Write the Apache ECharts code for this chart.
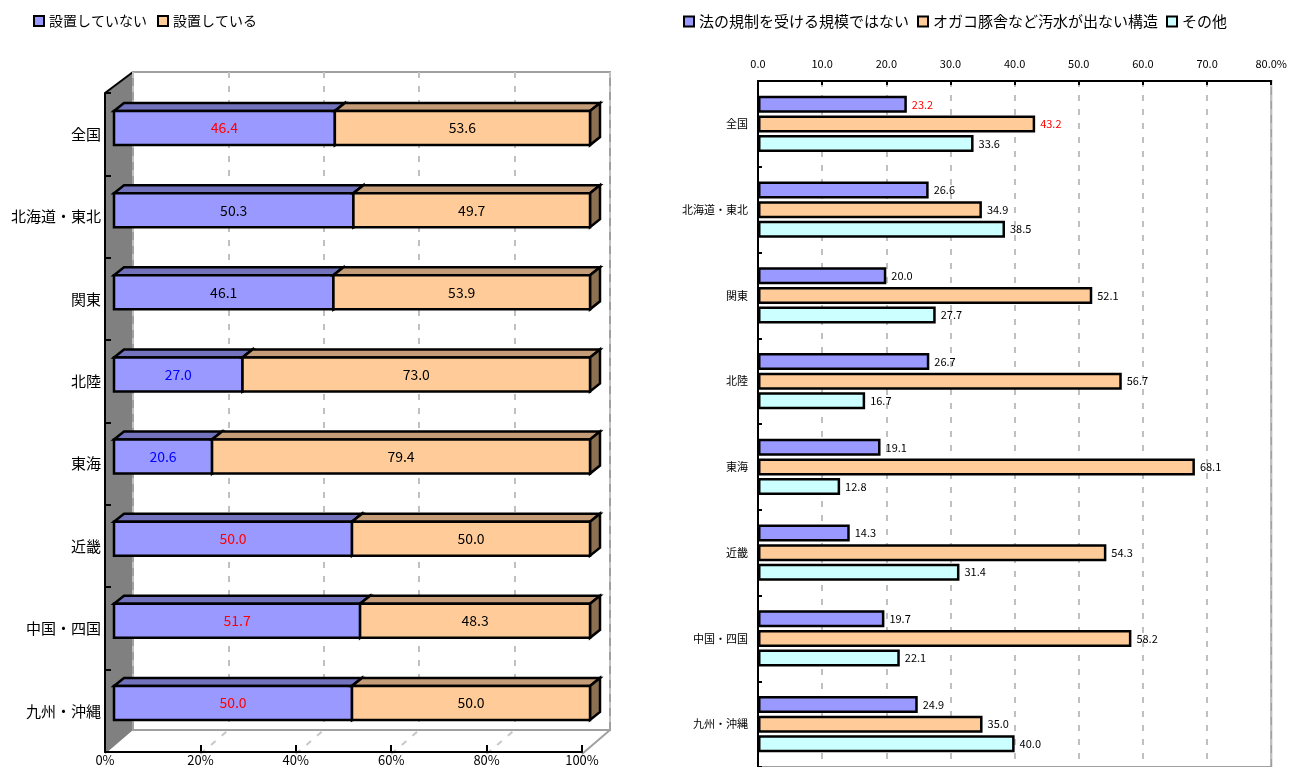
<!DOCTYPE html>
<html><head><meta charset="utf-8">
<script src="https://cdn.jsdelivr.net/npm/echarts@6/dist/echarts.min.js"></script>
<style>html,body{margin:0;padding:0;background:#fff}#c{width:1290px;height:767px}</style>
</head><body><div id="c"></div>
<script>
// ---------- data ----------
const leftCategories = ['全国','北海道・東北','関東','北陸','東海','近畿','中国・四国','九州・沖縄'];
const leftSeriesNames = ['設置していない','設置している'];
const leftNotInstalled = [46.4, 50.3, 46.1, 27.0, 20.6, 50.0, 51.7, 50.0];
const leftInstalled    = [53.6, 49.7, 53.9, 73.0, 79.4, 50.0, 48.3, 50.0];
const leftTicks = [0, 20, 40, 60, 80, 100];

const rightCategories = ['全国','北海道・東北','関東','北陸','東海','近畿','中国・四国','九州・沖縄'];
const rightSeriesNames = ['法の規制を受ける規模ではない','オガコ豚舎など汚水が出ない構造','その他'];
const rightNotRegulated = [23.2, 26.6, 20.0, 26.7, 19.1, 14.3, 19.7, 24.9];
const rightNoWastewater = [43.2, 34.9, 52.1, 56.7, 68.1, 54.3, 58.2, 35.0];
const rightOther        = [33.6, 38.5, 27.7, 16.7, 12.8, 31.4, 22.1, 40.0];
const rightTicks = [0, 10, 20, 30, 40, 50, 60, 70, 80];

// ---------- styles ----------
const FONT = '"Noto Sans CJK JP", "Noto Sans", sans-serif';
const BLUE = '#9999FF', ORANGE = '#FFCC99', CYAN = '#CCFFFF';
const leftLabelColor = {0:'#FF0000', 3:'#0000FF', 4:'#0000FF', 5:'#FF0000', 6:'#FF0000', 7:'#FF0000'};
const rightRedIdx = {0: true};

// left chart geometry
const FRONT = {left:105, top:93, width:477, height:661};
const BACK  = {left:133, top:72, width:477, height:658};
const BARG  = {left:114, top:87, width:476, height:657};

function bar3d(front, top, side, colorFn) {
  return function (params, api) {
    const cat = api.value(0), s = api.value(1), e = api.value(2), v = api.value(3);
    const a = api.coord([s, cat]), b = api.coord([e, cat]);
    const h = 34, dx = 10, dy = 8;
    const x0 = a[0], x1 = b[0], yc = a[1], yt = yc - h/2, yb = yc + h/2;
    return {type:'group', children:[
      {type:'polygon', shape:{points:[[x0,yt],[x0+dx,yt-dy],[x1+dx,yt-dy],[x1,yt]]}, style:{fill:top, stroke:'#000', lineWidth:2.5}},
      {type:'polygon', shape:{points:[[x1,yt],[x1+dx,yt-dy],[x1+dx,yb-dy],[x1,yb]]}, style:{fill:side, stroke:'#000', lineWidth:2.5}},
      {type:'rect', shape:{x:x0, y:yt, width:x1-x0, height:h}, style:{fill:front, stroke:'#000', lineWidth:2.5}},
      {type:'text', style:{text:v.toFixed(1), x:(x0+x1)/2, y:yc, align:'center', verticalAlign:'middle',
        fill: colorFn(params.dataIndex), font:'14px ' + FONT}}
    ]};
  };
}

const blueData = leftNotInstalled.map((v,i)=>[i, 0, v, v]);
const orangeData = leftInstalled.map((v,i)=>[i, leftNotInstalled[i], leftNotInstalled[i]+v, v]);

// decorations (walls / floor) for left 3D frame
const deco = [];
const fl = FRONT.left, fb = FRONT.top + FRONT.height, bl = BACK.left, bb = BACK.top + BACK.height;
deco.push({type:'polygon', z:-1, shape:{points:[[fl,FRONT.top],[bl,BACK.top],[bl,bb],[fl,fb]]}, style:{fill:'#808080'}});
deco.push({type:'line', z:-1, shape:{x1:fl,y1:FRONT.top,x2:bl,y2:BACK.top}, style:{stroke:'#000', lineWidth:2}});
leftTicks.forEach(t => {
  if (t === 0 || t === 100) return;
  const xf = fl + FRONT.width*t/100, xb = bl + BACK.width*t/100;
  deco.push({type:'line', z:-1, shape:{x1:xf,y1:fb,x2:xb,y2:bb}, style:{stroke:'#C8C8C8', lineWidth:2, lineDash:[6,8]}});
});
deco.push({type:'line', z:-1, shape:{x1:fl+FRONT.width,y1:fb,x2:bl+BACK.width,y2:bb}, style:{stroke:'#A0A0A0', lineWidth:2}});

const option = {
  animation:false,
  backgroundColor:'#fff',
  textStyle:{fontFamily:FONT},
  graphic: deco,
  legend:[
    {data:leftSeriesNames, left:28, top:9, itemWidth:10, itemHeight:10, itemGap:10, icon:'rect',
     itemStyle:{borderColor:'#000', borderWidth:2}, textStyle:{fontSize:14, color:'#000', fontFamily:FONT}},
    {data:rightSeriesNames, left:678, top:9, itemWidth:10, itemHeight:10, itemGap:8, icon:'rect',
     itemStyle:{borderColor:'#000', borderWidth:2}, textStyle:{fontSize:15, color:'#000', fontFamily:FONT}}
  ],
  grid:[
    {left:BARG.left, top:BARG.top, width:BARG.width, height:BARG.height},
    {left:FRONT.left, top:FRONT.top, width:FRONT.width, height:FRONT.height},
    {left:BACK.left, top:BACK.top, width:BACK.width, height:BACK.height, show:true, borderColor:'#A0A0A0', borderWidth:2, backgroundColor:'transparent'},
    {left:758, top:81, width:515, height:688, show:true, borderColor:'#A0A0A0', borderWidth:2, backgroundColor:'transparent'}
  ],
  xAxis:[
    {gridIndex:0, type:'value', min:0, max:100, show:false},
    {gridIndex:1, type:'value', min:0, max:100, interval:20, position:'bottom',
     axisLine:{show:true, lineStyle:{color:'#000', width:2}},
     axisTick:{show:true, inside:true, length:7, lineStyle:{color:'#000', width:2}},
     splitLine:{show:false},
     axisLabel:{fontSize:13, color:'#000', margin:2, formatter:v=>v+'%'}},
    {gridIndex:2, type:'value', min:0, max:100, interval:20,
     axisLine:{show:false}, axisTick:{show:false}, axisLabel:{show:false},
     splitLine:{show:true, lineStyle:{color:'#C0C0C0', width:2, type:[6,8]}}},
    {gridIndex:3, type:'value', min:0, max:80, interval:10, position:'top',
     axisLine:{show:true, lineStyle:{color:'#000', width:2}},
     axisTick:{show:true, inside:true, length:4, lineStyle:{color:'#000', width:2}},
     splitLine:{show:true, lineStyle:{color:'#C0C0C0', width:2, type:[6,8]}},
     axisLabel:{fontSize:11, color:'#000', margin:12, formatter:v=> v===80 ? '80.0%' : v.toFixed(1)}}
  ],
  yAxis:[
    {gridIndex:0, type:'category', data:leftCategories, inverse:true, show:false},
    {gridIndex:1, type:'category', data:leftCategories, inverse:true,
     axisLine:{show:true, lineStyle:{color:'#000', width:2}},
     axisTick:{show:true, inside:true, length:6, lineStyle:{color:'#000', width:2}},
     axisLabel:{fontSize:15, color:'#000', margin:4}},
    {gridIndex:2, type:'category', data:leftCategories, inverse:true, show:false},
    {gridIndex:3, type:'category', data:rightCategories, inverse:true,
     axisLine:{show:true, lineStyle:{color:'#000', width:2}},
     axisTick:{show:true, inside:true, length:4, lineStyle:{color:'#000', width:2}},
     axisLabel:{fontSize:11, color:'#000', margin:10}}
  ],
  series:[
    {name:leftSeriesNames[0], type:'custom', xAxisIndex:0, yAxisIndex:0, z:3, itemStyle:{color:BLUE},
     renderItem: bar3d(BLUE, '#7373BD', '#5A5A99', i => leftLabelColor[i] || '#000'),
     encode:{x:[1,2], y:0}, data:blueData},
    {name:leftSeriesNames[1], type:'custom', xAxisIndex:0, yAxisIndex:0, z:3, itemStyle:{color:ORANGE},
     renderItem: bar3d(ORANGE, '#C49D78', '#8C7052', i => '#000'),
     encode:{x:[1,2], y:0}, data:orangeData},
    ...[[rightNotRegulated, BLUE, true],[rightNoWastewater, ORANGE, true],[rightOther, CYAN, false]].map((s,k)=>({
      name:rightSeriesNames[k], type:'bar', xAxisIndex:3, yAxisIndex:3, barWidth:17, barGap:'15%',
      itemStyle:{color:s[1], borderColor:'#000', borderWidth:2.5},
      label:{show:true, position:'right', distance:5, fontSize:11, color:'#000', formatter:p=>p.value.toFixed(1)},
      data:s[0].map((v,i)=> (s[2] && rightRedIdx[i]) ? {value:v, label:{color:'#FF0000'}} : v)
    }))
  ]
};
const chart = echarts.init(document.getElementById('c'), null, {renderer:'canvas'});
chart.setOption(option);
</script></body></html>
